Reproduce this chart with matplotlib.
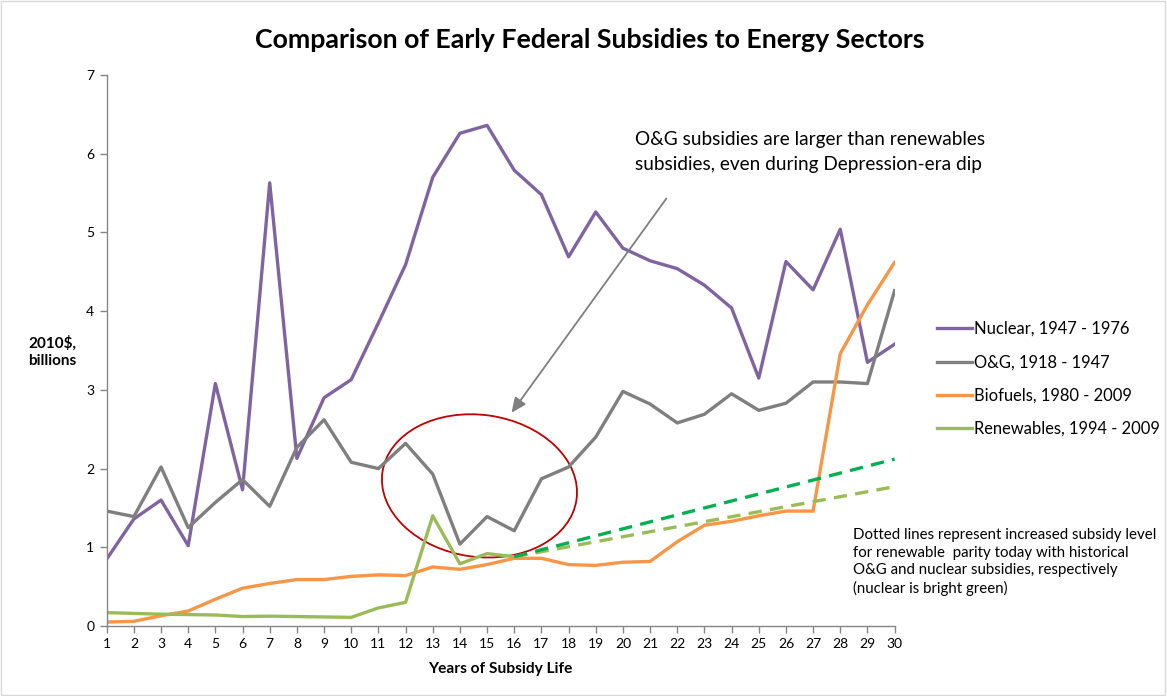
import numpy as np
import matplotlib.pyplot as plt
from matplotlib.patches import Ellipse, Rectangle
from matplotlib.transforms import Affine2D

plt.rcParams['font.family'] = ['Lato', 'DejaVu Sans']

years = np.arange(1, 31)
nuclear = [0.85, 1.36, 1.60, 1.02, 3.08, 1.73, 5.63, 2.13, 2.90, 3.13,
           3.85, 4.59, 5.70, 6.26, 6.36, 5.79, 5.48, 4.69, 5.26, 4.80,
           4.64, 4.54, 4.33, 4.04, 3.15, 4.63, 4.27, 5.04, 3.35, 3.58]
oil_gas = [1.46, 1.39, 2.02, 1.25, 1.57, 1.86, 1.52, 2.27, 2.62, 2.08,
           2.00, 2.32, 1.93, 1.04, 1.39, 1.21, 1.87, 2.02, 2.40, 2.98,
           2.82, 2.58, 2.69, 2.95, 2.74, 2.83, 3.10, 3.10, 3.08, 4.26]
biofuels = [0.05, 0.06, 0.13, 0.19, 0.34, 0.48, 0.54, 0.59, 0.59, 0.63,
            0.65, 0.64, 0.75, 0.72, 0.78, 0.86, 0.86, 0.78, 0.77, 0.81,
            0.82, 1.07, 1.28, 1.33, 1.40, 1.46, 1.46, 3.46, 4.08, 4.62]
renewables = [0.17, 0.16, 0.15, 0.145, 0.14, 0.12, 0.125, 0.12, 0.115, 0.11,
              0.23, 0.30, 1.40, 0.79, 0.92, 0.88]
parity_years = [16, 30]
parity_nuclear = [0.88, 2.12]
parity_og = [0.88, 1.77]

purple = '#8064A2'
gray = '#7F7F7F'
orange = '#F79646'
green = '#9BBB59'
bright = '#00B050'

W, H = 1167, 696
fig = plt.figure(figsize=(W / 100, H / 100), dpi=100)
ax = fig.add_axes([106.7 / W, 1 - 626 / H, (894.6 - 106.7) / W, (626 - 75) / H])

lw = 2.4
l1, = ax.plot(years, nuclear, color=purple, lw=lw, label='Nuclear, 1947 - 1976')
l2, = ax.plot(years, oil_gas, color=gray, lw=lw, label='O&G, 1918 - 1947')
l3, = ax.plot(years, biofuels, color=orange, lw=lw, label='Biofuels, 1980 - 2009')
l4, = ax.plot(years[:len(renewables)], renewables, color=green, lw=lw,
              label='Renewables, 1994 - 2009')
ax.plot(parity_years, parity_og, color=green, lw=lw, ls=(0, (4, 2.5)))
ax.plot(parity_years, parity_nuclear, color=bright, lw=lw, ls=(0, (4, 2.5)))

ax.set_xlim(1, 30)
ax.set_ylim(0, 7)
ax.set_xticks(years)
ax.set_yticks(range(8))
for s in ['top', 'right']:
    ax.spines[s].set_visible(False)
for s in ['left', 'bottom']:
    ax.spines[s].set_color('#868686')
    ax.spines[s].set_linewidth(1)
ax.tick_params(colors='#868686', labelcolor='black', labelsize=10, length=5, width=1)
ax.tick_params(axis='y', pad=4)

ax.set_xlabel('Years of Subsidy Life', fontsize=11.2, fontweight='bold', labelpad=9)
fig.text(52 / W, 1 - 352 / H, '2010$,\nbillions', fontsize=11, fontweight='bold',
         ha='center', va='center', linespacing=1.3)

fig.text(590 / W, 1 - 40 / H, 'Comparison of Early Federal Subsidies to Energy Sectors',
         fontsize=19.3, fontweight='bold', ha='center', va='center')

fig.text(635 / W, 1 - 152 / H,
         'O&G subsidies are larger than renewables\nsubsidies, even during Depression-era dip',
         fontsize=13.7, ha='left', va='center', linespacing=1.6)

fig.text(853 / W, 1 - 562 / H,
         'Dotted lines represent increased subsidy level\nfor renewable  parity today with historical\n'
         'O&G and nuclear subsidies, respectively\n(nuclear is bright green)',
         fontsize=10.8, ha='left', va='center', linespacing=1.3)

# arrow toward the Depression-era dip
ax.annotate('', xy=(15.84, 2.68), xytext=(21.66, 5.46),
            arrowprops=dict(arrowstyle='-|>,head_length=0.9,head_width=0.4',
                            color=gray, lw=1.3))

# red ellipse drawn in pixel units, placed in data coordinates
ell = Ellipse((0, 0), 196, 142, angle=-8, fill=False, ec='#C00000', lw=1.3)
ell.set_transform(Affine2D().scale(1 / 27.17, 1 / 78.7).translate(14.72, 1.78) + ax.transData)
ax.add_patch(ell)

fig.legend(handles=[l1, l2, l3, l4], loc='center left',
           bbox_to_anchor=(922 / W, 1 - 379 / H), frameon=False, fontsize=11.9,
           handlelength=2.1, handletextpad=0.15, labelspacing=1.05)

fig.add_artist(Rectangle((0.001, 0.001), 0.997, 0.997, transform=fig.transFigure,
                         fill=False, ec='#D9D9D9', lw=1))

fig.savefig('out.png', dpi=100)
